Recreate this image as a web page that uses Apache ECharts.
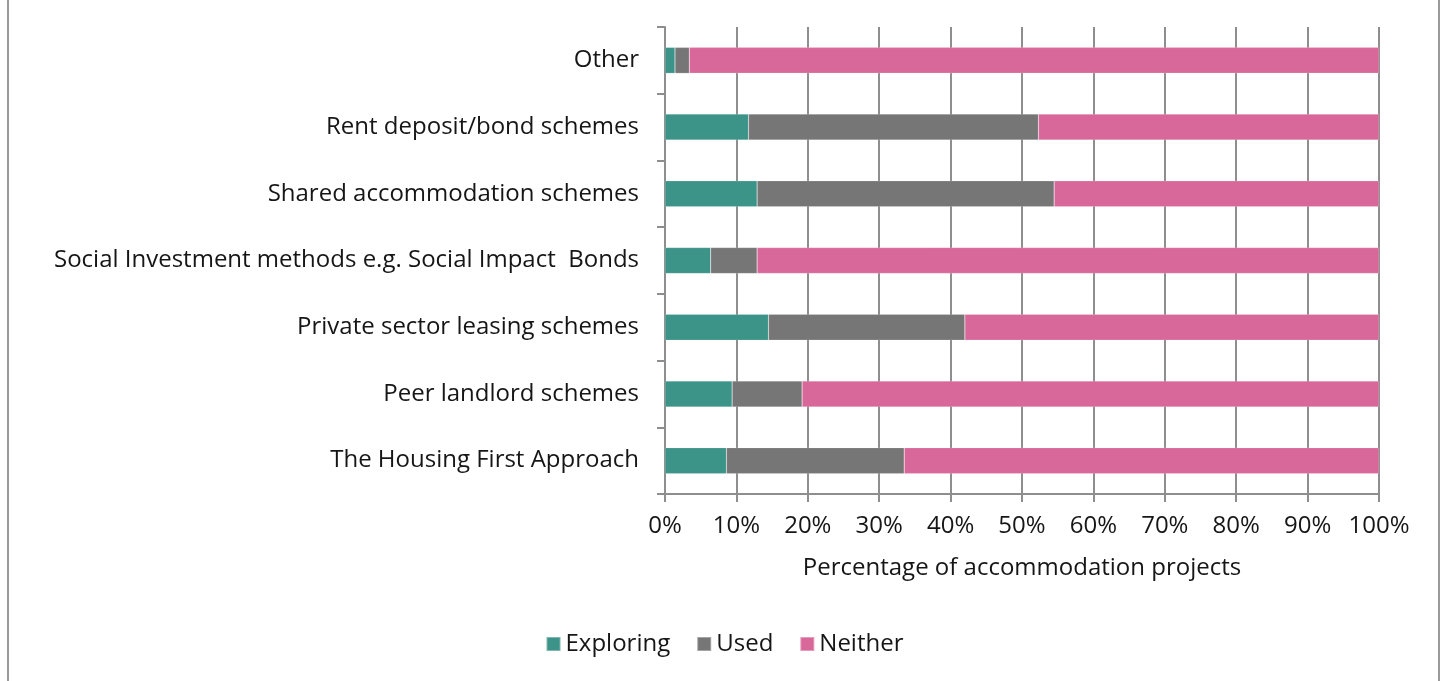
<!DOCTYPE html>
<html>
<head>
<meta charset="utf-8">
<script src="https://cdn.jsdelivr.net/npm/echarts@6/dist/echarts.min.js"></script>
<style>
  html, body { margin: 0; padding: 0; background: #fff; }
  #chart { width: 1449px; height: 681px; }
</style>
</head>
<body>
<div id="chart"></div>
<script>
// Categories listed bottom-to-top (category axis on y runs upwards)
const categories = [
  'The Housing First Approach',
  'Peer landlord schemes',
  'Private sector leasing schemes',
  'Social Investment methods e.g. Social Impact  Bonds',
  'Shared accommodation schemes',
  'Rent deposit/bond schemes',
  'Other'
];
const exploring = [8.6, 9.4, 14.5, 6.4, 12.9, 11.7, 1.4];
const used      = [24.9, 9.8, 27.5, 6.5, 41.6, 40.6, 2.0];
const neither   = [66.5, 80.8, 58.0, 87.1, 45.5, 47.7, 96.6];
const xTicks = [0, 10, 20, 30, 40, 50, 60, 70, 80, 90, 100];

const FONT = '"Open Sans", sans-serif';
const FS = 24;
const TEXT = '#161616';
const GRID_GREY = '#8e8e8e';
const colors = { Exploring: '#3c9387', Used: '#767676', Neither: '#d9689a' };

const chart = echarts.init(document.getElementById('chart'), null, { renderer: 'canvas' });

function barSeries(name, data) {
  return {
    name, type: 'bar', stack: 'total', data,
    barWidth: '39%',
    itemStyle: { color: colors[name], borderColor: 'rgba(255,255,255,0.35)', borderWidth: 0.5 },
    emphasis: { disabled: true }
  };
}

chart.setOption({
  animation: false,
  textStyle: { fontFamily: FONT },
  grid: { left: 665, right: 70, top: 27, bottom: 187, containLabel: false },
  xAxis: {
    type: 'value', min: 0, max: 100, interval: 10,
    name: 'Percentage of accommodation projects',
    nameLocation: 'middle', nameGap: 62,
    nameTextStyle: { fontSize: FS, color: TEXT, fontFamily: FONT },
    axisLine: { show: true, lineStyle: { color: GRID_GREY, width: 2 } },
    axisTick: { show: true, length: 8, lineStyle: { color: GRID_GREY, width: 2 } },
    axisLabel: {
      fontSize: FS, color: TEXT, margin: 20, fontFamily: FONT,
      formatter: v => (xTicks.includes(v) ? v + '%' : '')
    },
    splitLine: { show: true, lineStyle: { color: GRID_GREY, width: 2 } }
  },
  yAxis: {
    type: 'category', data: categories,
    axisLine: { show: true, lineStyle: { color: GRID_GREY, width: 2 } },
    axisTick: { show: true, length: 8, inside: false, lineStyle: { color: GRID_GREY, width: 2 } },
    axisLabel: { fontSize: FS, color: TEXT, margin: 26, fontFamily: FONT }
  },
  legend: {
    top: 627, left: 'center',
    icon: 'rect', itemWidth: 14, itemHeight: 14, itemGap: 26,
    textStyle: { fontSize: FS, color: TEXT, fontFamily: FONT },
    data: ['Exploring', 'Used', 'Neither']
  },
  graphic: [
    { type: 'rect', shape: { x: 7, y: 0, width: 2, height: 681 }, style: { fill: '#9a9a9a' } },
    { type: 'rect', shape: { x: 1438, y: 0, width: 2, height: 681 }, style: { fill: '#9a9a9a' } }
  ],
  series: [
    barSeries('Exploring', exploring),
    barSeries('Used', used),
    barSeries('Neither', neither)
  ]
});
</script>
</body>
</html>
